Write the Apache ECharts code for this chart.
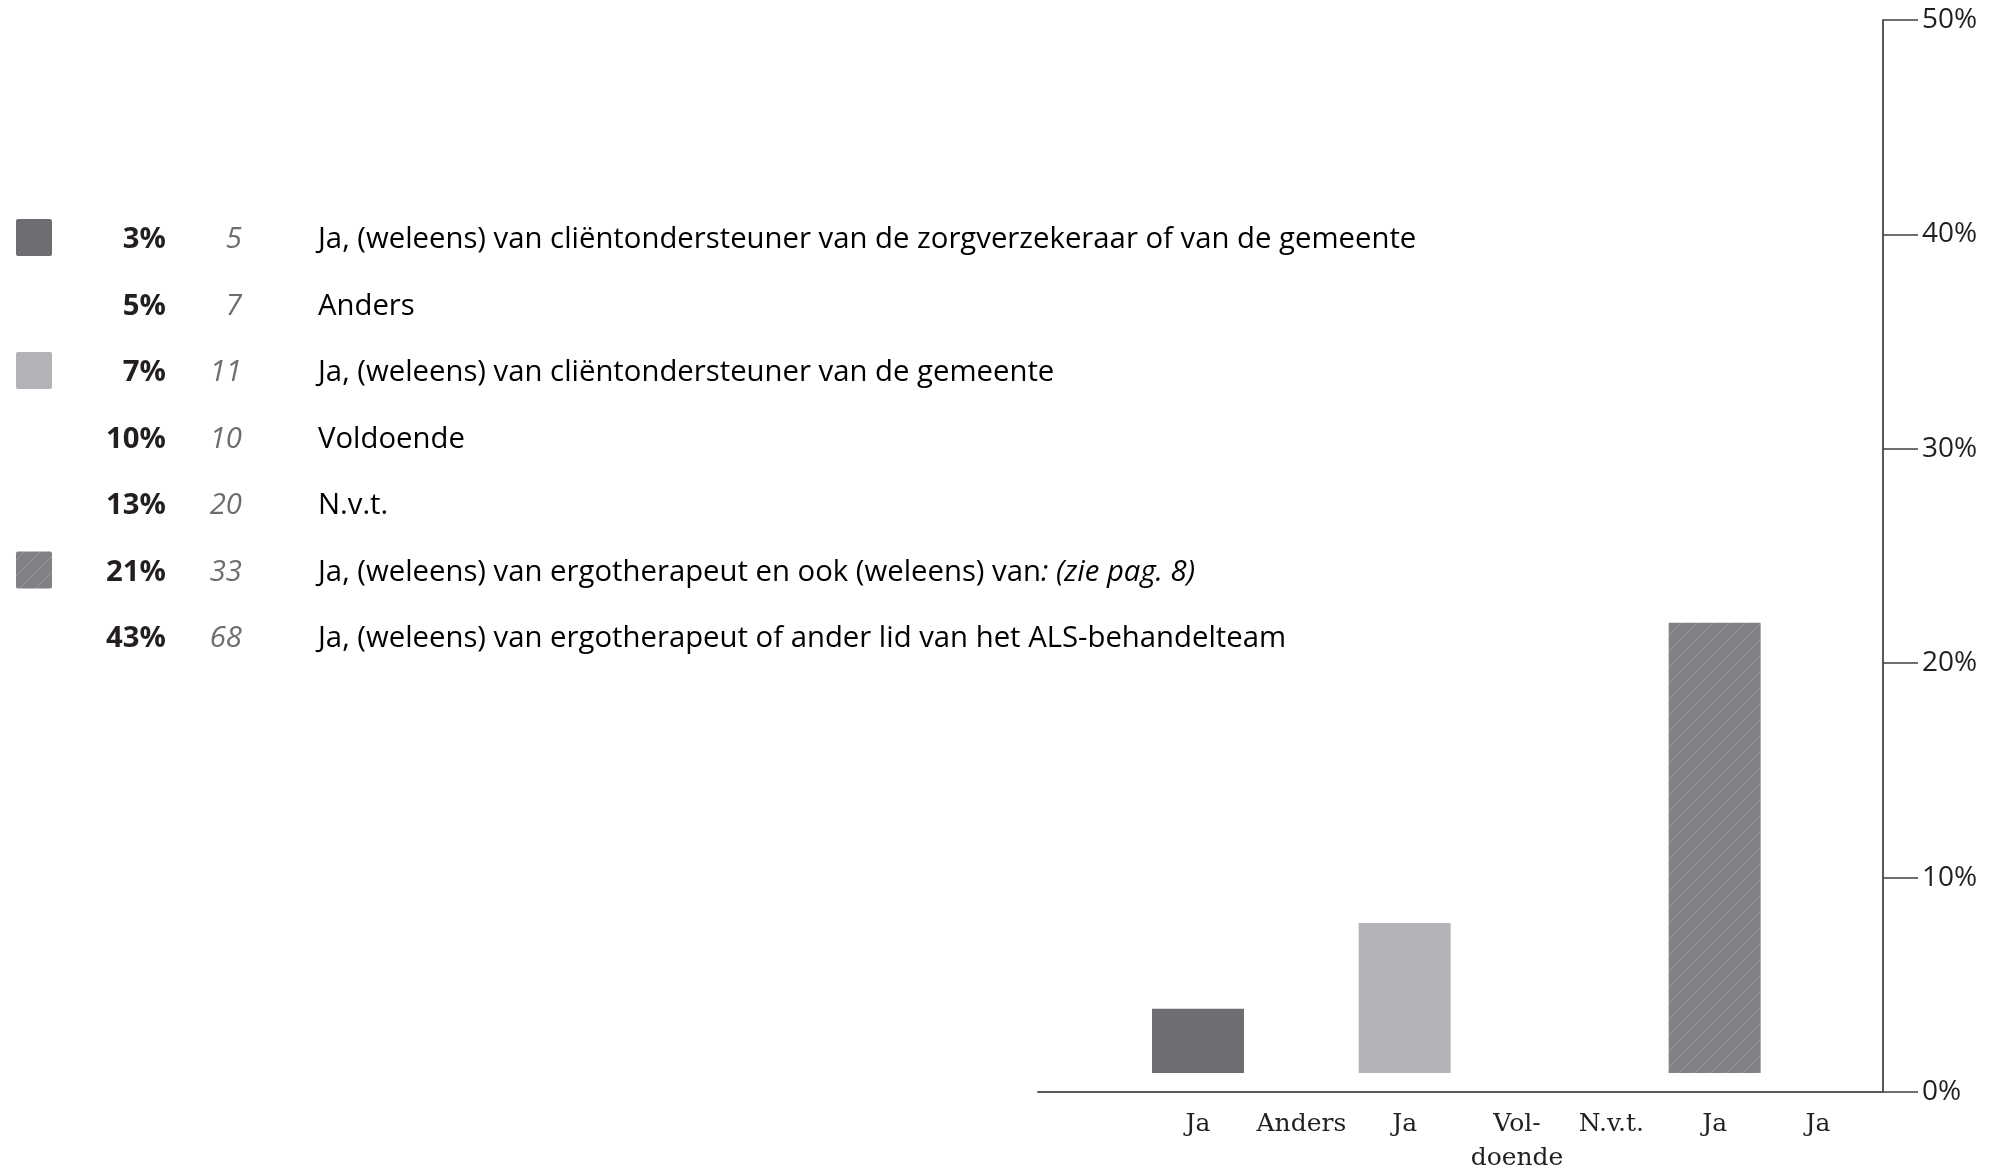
<!DOCTYPE html>
<html>
<head>
<meta charset="utf-8">
<title>Ondersteuning bij aanvraag hulpmiddelen</title>
<script src="https://cdn.jsdelivr.net/npm/echarts@6/dist/echarts.min.js"></script>
<style>
  html, body { margin: 0; padding: 0; background: #ffffff; }
  #chart { width: 2002px; height: 1172px; }
</style>
</head>
<body>
<div id="chart"></div>
<script>
// Answer categories, in bar order (left to right) and table order (top to bottom)
const categories = ['Ja', 'Anders', 'Ja', 'Vol-\ndoende', 'N.v.t.', 'Ja', 'Ja'];
const percents = [3, 5, 7, 10, 13, 21, 43];
const counts = [5, 7, 11, 10, 20, 33, 68];
const answers = [
  'Ja, (weleens) van cliëntondersteuner van de zorgverzekeraar of van de gemeente',
  'Anders',
  'Ja, (weleens) van cliëntondersteuner van de gemeente',
  'Voldoende',
  'N.v.t.',
  'Ja, (weleens) van ergotherapeut en ook (weleens) van',
  'Ja, (weleens) van ergotherapeut of ander lid van het ALS-behandelteam'
];
const answerNotes = ['', '', '', '', '', ': (zie pag. 8)', ''];
// Which answers get a bar, and with which fill
const barFills = ['dark', null, 'light', null, null, 'hatched', null];
const yMin = 0, yMax = 50, yStep = 10;

// Diagonal hatch tile for the striped fill
function hatchTile() {
  const c = document.createElement('canvas');
  c.width = 16; c.height = 16;
  const g = c.getContext('2d');
  g.fillStyle = '#808185';
  g.fillRect(0, 0, 16, 16);
  g.strokeStyle = '#999a9d';
  g.lineWidth = 1;
  for (const k of [-16, 0, 16]) {
    g.beginPath();
    g.moveTo(k, 16);
    g.lineTo(k + 16, 0);
    g.stroke();
  }
  return c;
}
const fills = {
  dark: '#6d6e71',
  light: '#b2b3b6',
  hatched: { image: hatchTile(), repeat: 'repeat' }
};

const FONT = '"Open Sans", "Noto Sans", sans-serif';
const INK = '#231f20';
const TABLE_SIZE = 29.3;
const rowTop = 240, rowGap = 66.5;

// Table on the left: swatch, percentage, count, answer text
const tableGraphics = [];
percents.forEach((p, i) => {
  const y = rowTop + i * rowGap;
  if (barFills[i]) {
    tableGraphics.push({
      type: 'rect',
      shape: { x: 16, y: y - 21, width: 36, height: 37, r: 2 },
      style: { fill: fills[barFills[i]] }
    });
  }
  tableGraphics.push({
    type: 'text', x: 166, y: y,
    style: {
      text: p + '%', font: 'bold ' + TABLE_SIZE + 'px ' + FONT, fill: INK,
      align: 'right', verticalAlign: 'middle',
      textAlign: 'right', textVerticalAlign: 'middle'
    }
  });
  tableGraphics.push({
    type: 'text', x: 242, y: y,
    style: {
      text: String(counts[i]), font: 'italic ' + TABLE_SIZE + 'px ' + FONT, fill: '#6d6e71',
      align: 'right', verticalAlign: 'middle',
      textAlign: 'right', textVerticalAlign: 'middle'
    }
  });
  const richText = '{n|' + answers[i] + '}' + (answerNotes[i] ? '{it|' + answerNotes[i] + '}' : '');
  tableGraphics.push({
    type: 'text', x: 318, y: y,
    style: {
      text: richText,
      align: 'left', verticalAlign: 'middle',
      textAlign: 'left', textVerticalAlign: 'middle',
      rich: {
        n: { fontFamily: FONT, fontSize: TABLE_SIZE, color: INK },
        it: { fontFamily: FONT, fontSize: TABLE_SIZE, fontStyle: 'italic', color: INK }
      }
    }
  });
});

const barData = percents.map((p, i) =>
  barFills[i] ? { value: p, itemStyle: { color: fills[barFills[i]] } } : '-'
);

// The hyphenated label hangs slightly to the right
const categoryItems = categories.map(c =>
  c.indexOf('-\n') >= 0 ? { value: c, textStyle: { padding: [0, 0, 0, 18] } } : c
);

const chart = echarts.init(document.getElementById('chart'), null, { renderer: 'canvas' });
chart.setOption({
  animation: false,
  backgroundColor: '#ffffff',
  grid: [
    // axis frame
    { left: 1038, top: 20, width: 845, height: 1072, outerBoundsMode: 'none', containLabel: false },
    // bar area
    { left: 1146.35, top: 1, width: 723.3, height: 1072, outerBoundsMode: 'none', containLabel: false }
  ],
  xAxis: [
    {
      gridIndex: 0, type: 'category', data: [''],
      axisLine: { lineStyle: { color: '#58595b', width: 2 } },
      axisTick: { show: false }, axisLabel: { show: false }, splitLine: { show: false }
    },
    {
      gridIndex: 1, type: 'category', data: categoryItems,
      axisLine: { show: false }, axisTick: { show: false },
      axisLabel: {
        interval: 0, margin: 34, fontSize: 25, lineHeight: 34,
        fontFamily: '"DejaVu Serif", serif', color: INK
      }
    }
  ],
  yAxis: [
    {
      gridIndex: 0, type: 'value', position: 'right',
      min: yMin, max: yMax, interval: yStep,
      axisLine: { show: true, lineStyle: { color: INK, width: 1.5 } },
      axisTick: { show: true, length: 35, lineStyle: { color: '#414042', width: 1.5 } },
      axisLabel: {
        formatter: '{value}%', margin: 39, fontSize: 28, fontFamily: FONT, color: INK,
        padding: [8, 0, 0, 0]
      },
      splitLine: { show: false }
    },
    {
      gridIndex: 1, type: 'value', min: yMin, max: yMax, interval: yStep, show: false
    }
  ],
  series: [
    {
      type: 'bar', xAxisIndex: 1, yAxisIndex: 1,
      barWidth: 92, data: barData
    }
  ],
  graphic: { elements: tableGraphics }
});
</script>
</body>
</html>
